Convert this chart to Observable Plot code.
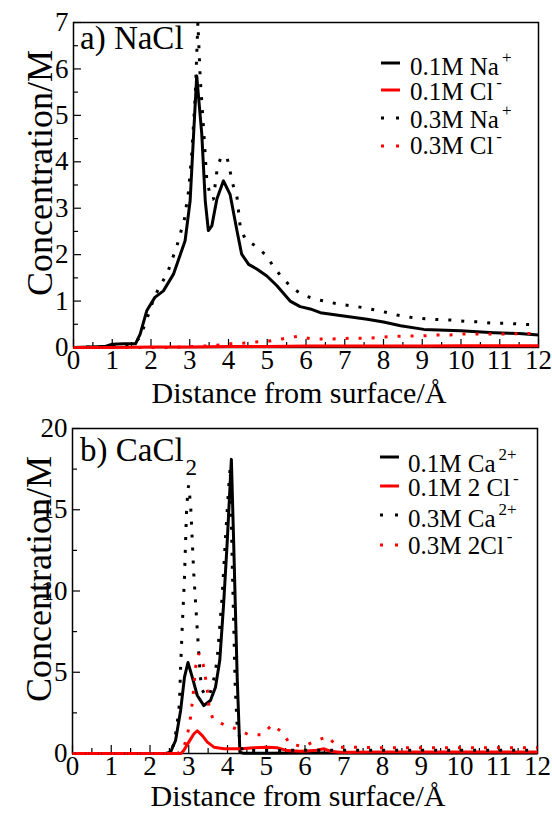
<!DOCTYPE html>
<html><head><meta charset="utf-8">
<script src="https://cdn.jsdelivr.net/npm/d3@7"></script>
<script src="https://cdn.jsdelivr.net/npm/@observablehq/plot@0.6"></script>
<style>
body{margin:0;background:#fff;}
#wrap{position:relative;width:552px;height:813px;font-family:"Liberation Serif",Times,serif;color:#000;overflow:hidden;}
.panel{position:absolute;left:0;width:552px;}
.txt{position:absolute;line-height:1;white-space:nowrap;}
.leg{font-size:25px;}
.sup{font-size:17px;}
.plab{font-size:33px;}
.sub{font-size:23px;}
.sample{position:absolute;}
</style>
</head><body>
<div id="wrap">
  <div class="panel" id="pa" style="top:0"></div>
  <div class="panel" id="pb" style="top:405px"></div>
</div>
<script>
// ---------- tick values ----------
const xMajor = [0,1,2,3,4,5,6,7,8,9,10,11,12];
const xMinor = [0.5,1.5,2.5,3.5,4.5,5.5,6.5,7.5,8.5,9.5,10.5,11.5];
const yMajorA = [0,1,2,3,4,5,6,7];
const yMinorA = [0.5,1.5,2.5,3.5,4.5,5.5,6.5];
const yMajorB = [0,5,10,15,20];
const yMinorB = [2.5,7.5,12.5,17.5];

// ---------- panel a) NaCl ----------
const naLowX = [0,0.8,1.0,1.3,1.6,1.72,1.89,2.1,2.32,2.58,2.88,3.01,3.1,3.18,3.31,3.4,3.48,3.57,3.7,3.87,4.04,4.22,4.34,4.52,4.73,4.99,5.25,5.59,5.85,6.11,6.37,6.97,7.58,8.0,8.44,9.04,9.99,10.85,11.5,12];
const naLowY = [0,0.02,0.07,0.08,0.08,0.29,0.79,1.08,1.22,1.58,2.30,3.16,4.6,5.85,4.6,3.16,2.52,2.62,3.2,3.59,3.3,2.51,2.01,1.79,1.69,1.54,1.33,1.0,0.88,0.83,0.75,0.68,0.61,0.55,0.47,0.39,0.36,0.32,0.30,0.27];
const clLowAX = [0,1,2,3,4,5,6,7,8,9,10,11,12];
const clLowAY = [0,0,0.01,0.01,0.02,0.02,0.03,0.03,0.03,0.03,0.04,0.04,0.04];
const naHighX = [0,1.0,1.5,1.7,1.86,2.09,2.43,2.67,2.86,2.97,3.05,3.14,3.21,3.27,3.35,3.44,3.55,3.61,3.7,3.8,3.9,3.96,4.04,4.11,4.22,4.3,4.43,4.73,4.99,5.16,5.38,5.63,5.92,6.25,6.63,6.97,7.32,7.66,8.0,8.35,8.7,9.08,9.43,9.77,10.16,10.51,10.85,11.23,11.58,12];
const naHighY = [0,0.03,0.06,0.2,0.53,1.1,1.62,2.19,2.76,3.37,4.16,5.38,7.0,5.8,4.8,3.6,3.2,3.19,3.8,4.1,4.12,4.1,3.8,3.52,3.23,2.62,2.33,2.17,1.97,1.74,1.51,1.29,1.13,1.04,0.97,0.92,0.88,0.83,0.77,0.70,0.65,0.62,0.60,0.59,0.56,0.55,0.52,0.52,0.50,0.49];
const clHighAX = [0,2.5,3.0,3.61,3.99,4.33,4.71,5.06,5.41,5.77,6.11,6.5,6.85,7.19,7.58,7.92,8.31,8.66,9.0,9.39,9.73,10.07,10.42,10.8,11.15,11.53,12];
const clHighAY = [0,0,0.02,0.04,0.08,0.09,0.12,0.14,0.19,0.24,0.19,0.18,0.19,0.2,0.2,0.22,0.24,0.25,0.25,0.27,0.27,0.29,0.29,0.29,0.29,0.30,0.30];

// ---------- panel b) CaCl2 ----------
const caLowX = [0,2.4,2.53,2.66,2.79,2.89,2.98,3.09,3.22,3.39,3.56,3.69,3.8,3.9,3.99,4.1,4.16,4.25,4.32,4.4,5,6,7,8,9,10,11,12];
const caLowY = [0,0,0.08,0.8,2.65,4.7,5.6,4.7,3.57,2.95,3.26,4.08,5.72,9.2,12.9,18.1,12.9,4.7,0.08,0.02,0.02,0.03,0.03,0.03,0.03,0.03,0.03,0.03];
const clLowBX = [0,2.8,2.87,3.0,3.13,3.22,3.35,3.48,3.65,3.91,4.34,4.68,5.02,5.28,5.54,5.88,6.05,6.3,6.49,6.66,6.9,7.17,8,9,10,11,12];
const clLowBY = [0,0,0.18,0.7,1.2,1.4,1.1,0.7,0.39,0.29,0.29,0.35,0.39,0.35,0.18,0.14,0.16,0.2,0.29,0.14,0.08,0.08,0.1,0.1,0.1,0.1,0.1];
const caHighX = [0,2.5,2.62,2.7,2.76,2.79,2.83,2.89,2.94,2.98,3.0,3.05,3.13,3.22,3.3,3.35,3.45,3.55,3.65,3.73,3.86,3.95,4.03,4.07,4.12,4.2,4.25,4.38,4.5,5,6,7,8,9,10,11,12];
const caHighY = [0,0,0.6,1.8,3.06,5.3,7.7,10.85,14.75,16.3,16.5,15.2,11.05,7.6,4.7,3.9,3.5,3.7,4.6,5.7,9.6,13.3,16.4,17.6,12.0,4.0,1.7,0.2,0.18,0.18,0.2,0.2,0.2,0.2,0.2,0.2,0.2];
const clHighBX = [0,2.7,2.85,2.96,3.03,3.1,3.18,3.26,3.37,3.43,3.48,3.52,3.62,3.9,4.25,4.55,4.9,5.15,5.41,5.61,5.95,6.3,6.6,6.83,7.13,8,9,10,11,12];
const clHighBY = [0,0,0.18,1.1,1.93,3.3,5.35,6.15,5.5,4.7,3.88,2.95,2.13,1.78,1.5,1.15,1.15,1.78,1.31,0.59,0.43,0.8,1.05,0.39,0.39,0.35,0.35,0.35,0.35,0.35];

const xTitle = "Distance from surface/Å";
const yTitle = "Concentration/M";

const FONT = "'Liberation Serif', Times, serif";
const toRows = (xs, ys) => xs.map((x, i) => ({x, y: ys[i]}));

function panel({height, mt, mb, ml, mr, yDomain, yMaj, yMin, series, titleDy}) {
  const marks = [
    Plot.frame({stroke: "black", strokeWidth: 1.5}),
    Plot.axisX(xMajor, {tickSize: 8, dy: -8, tickFormat: () => "", label: null, strokeWidth: 1.2}),
    Plot.axisX(xMinor, {tickSize: 5, dy: -5, tickFormat: () => "", label: null, strokeWidth: 1.2}),
    Plot.axisY(yMaj, {tickSize: 8, dx: 8, tickFormat: () => "", label: null, strokeWidth: 1.2}),
    Plot.axisY(yMin, {tickSize: 5, dx: 5, tickFormat: () => "", label: null, strokeWidth: 1.2}),
    Plot.axisX(xMajor, {tickSize: 0, tickPadding: 2, fontSize: 27, label: null, fontFamily: FONT}),
    Plot.axisY(yMaj, {tickSize: 0, tickPadding: 5, fontSize: 27, label: null, fontFamily: FONT}),
    Plot.text([xTitle], {text: d => d, frameAnchor: "bottom", dx: -7, dy: titleDy, fontSize: 30, lineAnchor: "middle", textAnchor: "middle", fontFamily: FONT}),
    Plot.text([yTitle], {text: d => d, frameAnchor: "left", rotate: -90, dx: -33, dy: -12, fontSize: 36, lineAnchor: "middle", textAnchor: "middle", fontFamily: FONT})
  ];
  for (const s of series) {
    marks.push(Plot.line(toRows(s.x, s.y), {
      x: "x", y: "y", stroke: s.color, strokeWidth: 3,
      strokeDasharray: s.dotted ? "3,10" : null,
      strokeLinejoin: s.dotted ? "miter" : "round",
      strokeLinecap: "butt"
    }));
  }
  return Plot.plot({
    width: 552, height, marginTop: mt, marginBottom: mb, marginLeft: ml, marginRight: mr,
    x: {domain: [0, 12], axis: null},
    y: {domain: yDomain, axis: null},
    style: {fontFamily: FONT, fontSize: "25px", background: "white", overflow: "visible", color: "black"},
    marks
  });
}

const red = "#ff0000";
document.getElementById("pa").append(panel({
  height: 405, mt: 22, mb: 58, ml: 73, mr: 14, yDomain: [0, 7], yMaj: yMajorA, yMin: yMinorA, titleDy: 46,
  series: [
    {x: naLowX, y: naLowY, color: "black"},
    {x: clLowAX, y: clLowAY, color: red},
    {x: naHighX, y: naHighY, color: "black", dotted: true},
    {x: clHighAX, y: clHighAY, color: red, dotted: true}
  ]
}));
document.getElementById("pb").append(panel({
  height: 408, mt: 23, mb: 60, ml: 72, mr: 15, yDomain: [0, 20], yMaj: yMajorB, yMin: yMinorB, titleDy: 43,
  series: [
    {x: caLowX, y: caLowY, color: "black"},
    {x: clLowBX, y: clLowBY, color: red},
    {x: caHighX, y: caHighY, color: "black", dotted: true},
    {x: clHighBX, y: clHighBY, color: red, dotted: true}
  ]
}));

// ---------- legends & panel labels (HTML overlay) ----------
const wrap = document.getElementById("wrap");
const legendA = [
  {label: "0.1M Na", sup: "+", color: "black", dotted: false},
  {label: "0.1M Cl", sup: "-", color: red, dotted: false},
  {label: "0.3M Na", sup: "+", color: "black", dotted: true},
  {label: "0.3M Cl", sup: "-", color: red, dotted: true}
];
const legendB = [
  {label: "0.1M Ca", sup: "2+", color: "black", dotted: false},
  {label: "0.1M 2 Cl", sup: "-", color: red, dotted: false},
  {label: "0.3M Ca", sup: "2+", color: "black", dotted: true},
  {label: "0.3M 2Cl", sup: "-", color: red, dotted: true}
];
// place a text whose baseline sits at y (line-height 1, Liberation Serif baseline ≈ 0.8375em)
function placeText(str, cls, fs, x, baseline) {
  const t = document.createElement("div");
  t.className = "txt " + cls;
  t.textContent = str;
  t.style.left = x + "px";
  t.style.top = (baseline - 0.8375 * fs) + "px";
  wrap.append(t);
  return t.getBoundingClientRect().width;
}
function legend(items, sx, tx, sampleYs, baseYs) {
  items.forEach((it, i) => {
    const svgNS = "http://www.w3.org/2000/svg";
    const s = document.createElementNS(svgNS, "svg");
    s.setAttribute("class", "sample");
    s.setAttribute("width", 20); s.setAttribute("height", 4);
    s.style.left = sx + "px"; s.style.top = (sampleYs[i] - 2) + "px";
    const l = document.createElementNS(svgNS, "line");
    l.setAttribute("x1", 0); l.setAttribute("x2", 19); l.setAttribute("y1", 2); l.setAttribute("y2", 2);
    l.setAttribute("stroke", it.color); l.setAttribute("stroke-width", 3);
    if (it.dotted) l.setAttribute("stroke-dasharray", "3,12");
    s.append(l);
    wrap.append(s);
    const w = placeText(it.label, "leg", 25, tx, baseYs[i]);
    placeText(it.sup, "sup", 17, tx + w + 3, baseYs[i] - 12);
  });
}
legend(legendA, 381, 410, [63, 90, 118, 146], [75, 100, 128, 154]);
legend(legendB, 380, 408, [457, 486, 515, 545], [472, 496, 527, 554]);

const panelLabels = [
  {main: "a) NaCl", sub: "", left: 80, base: 50},
  {main: "b) CaCl", sub: "2", left: 80, base: 462}
];
panelLabels.forEach(p => {
  const w = placeText(p.main, "plab", 33, p.left, p.base);
  if (p.sub) placeText(p.sub, "sub", 23, p.left + w + 2, p.base + 13);
});
</script>
</body></html>
